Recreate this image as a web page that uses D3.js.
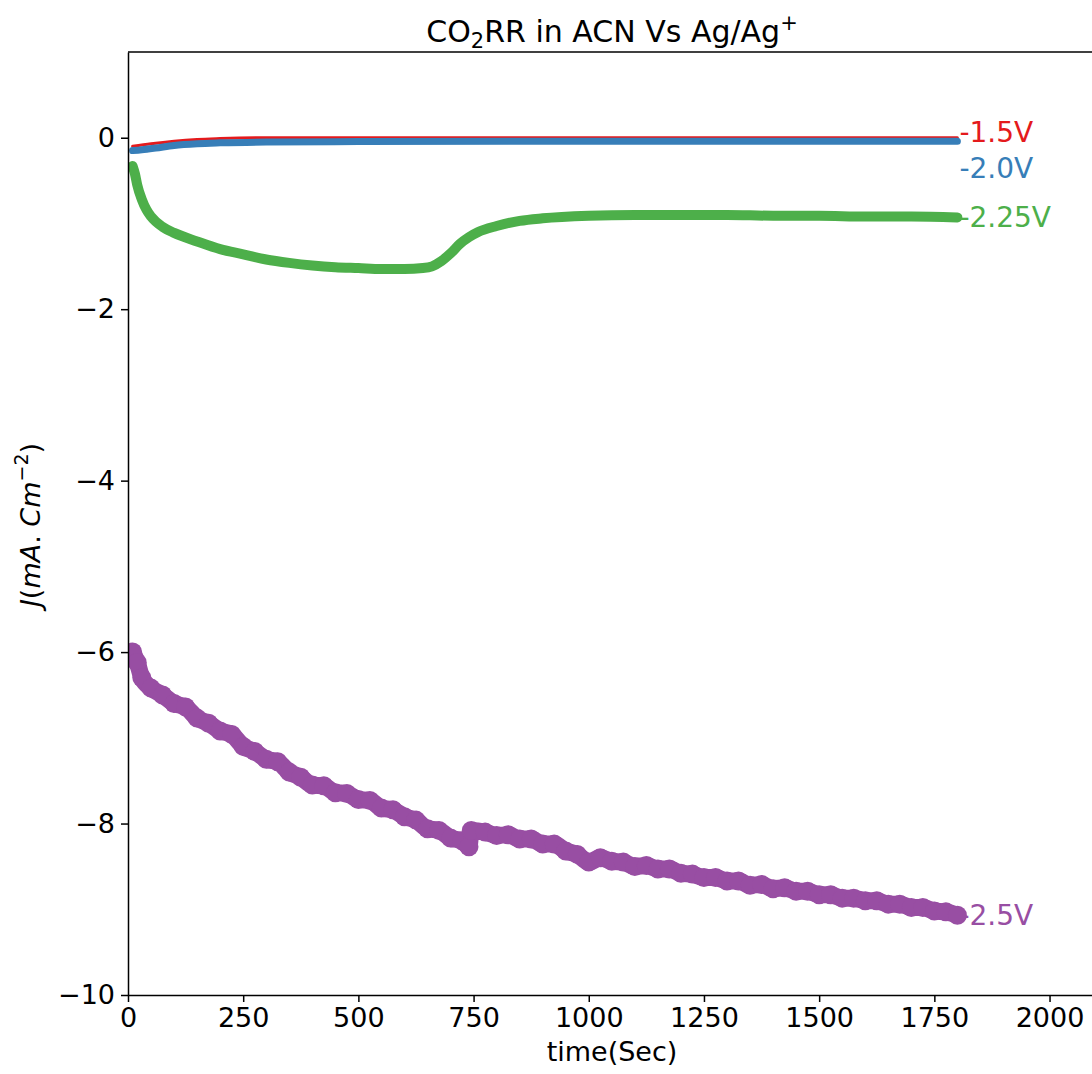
<!DOCTYPE html>
<meta charset="utf-8">
<script src="https://d3js.org/d3.v7.min.js"></script>
<style>
body { margin: 0; background: #fff; }
text { font-family: "DejaVu Sans"; }
</style>
<svg id="chart" width="1092" height="1074"></svg>
<script>
// data (time in s, J in mA/cm2)
const tRed   = [10, 50, 100, 150, 200, 300, 500, 1000, 1500, 1800]
const jRed   = [-0.1, -0.07, -0.04, -0.02, -0.01, 0, 0, 0, 0, 0]

const tBlue  = [10, 30, 60, 100, 150, 200, 300, 500, 1000, 1500, 1800]
const jBlue  = [-0.15, -0.14, -0.12, -0.09, -0.07, -0.06, -0.05, -0.045, -0.04, -0.04, -0.04]

const tGreen = [10, 15, 20, 30, 40, 50, 75, 100, 150, 200, 250, 300, 350, 400, 450, 500, 550, 600, 640, 660, 680, 700, 720, 740, 760, 800, 850, 900, 1000, 1100, 1200, 1300, 1400, 1500, 1600, 1700, 1800]
const jGreen = [-0.33, -0.42, -0.55, -0.72, -0.84, -0.92, -1.04, -1.11, -1.21, -1.3, -1.36, -1.42, -1.46, -1.49, -1.51, -1.52, -1.53, -1.53, -1.52, -1.5, -1.44, -1.35, -1.24, -1.16, -1.1, -1.03, -0.97, -0.94, -0.91, -0.9, -0.9, -0.9, -0.91, -0.91, -0.92, -0.92, -0.93]

const tPurple = [10, 20, 30, 50, 75, 100, 125, 150, 175, 200, 225, 250, 275, 300, 325, 350, 375, 400, 425, 450, 475, 500, 525, 550, 575, 600, 625, 650, 675, 700, 725, 740, 745, 775, 800, 825, 850, 875, 900, 925, 950, 975, 1000, 1025, 1050, 1075, 1100, 1125, 1150, 1175, 1200, 1225, 1250, 1275, 1300, 1325, 1350, 1375, 1400, 1425, 1450, 1475, 1500, 1525, 1550, 1575, 1600, 1625, 1650, 1675, 1700, 1725, 1750, 1775, 1800]
const jPurple = [-6.0, -6.12, -6.3, -6.42, -6.5, -6.6, -6.64, -6.77, -6.83, -6.92, -6.96, -7.1, -7.16, -7.25, -7.28, -7.4, -7.46, -7.55, -7.56, -7.64, -7.65, -7.72, -7.73, -7.82, -7.84, -7.92, -7.96, -8.06, -8.08, -8.17, -8.2, -8.27, -8.08, -8.1, -8.14, -8.13, -8.18, -8.18, -8.24, -8.24, -8.32, -8.36, -8.45, -8.4, -8.44, -8.45, -8.5, -8.49, -8.53, -8.53, -8.58, -8.59, -8.63, -8.63, -8.67, -8.67, -8.72, -8.71, -8.76, -8.75, -8.79, -8.79, -8.83, -8.83, -8.87, -8.87, -8.9, -8.9, -8.94, -8.94, -8.98, -8.98, -9.02, -9.03, -9.07]

const series = [
  { name: "-1.5V",  t: tRed,    j: jRed,    color: "#e41a1c", w: 3,  dy: -6 },
  { name: "-2.0V",  t: tBlue,   j: jBlue,   color: "#377eb8", w: 7,  dy: 27 },
  { name: "-2.25V", t: tGreen,  j: jGreen,  color: "#4daf4a", w: 10, dy: 0 },
  { name: "-2.5V",  t: tPurple, j: jPurple, color: "#984ea3", w: 17, dy: 0 }
]

const xTicks = [0, 250, 500, 750, 1000, 1250, 1500, 1750, 2000]
const yTicks = [0, -2, -4, -6, -8, -10]

const svg = d3.select("#chart")
const mLeft = 128, mRight = 1097, mTop = 52, mBottom = 995

const x = d3.scaleLinear().domain([0, 2103]).range([mLeft, mRight])
const y = d3.scaleLinear().domain([-10, 1]).range([mBottom, mTop])

svg.append("clipPath").attr("id", "clip")
  .append("rect").attr("x", mLeft).attr("y", mTop).attr("width", mRight - mLeft).attr("height", mBottom - mTop)

const plot = svg.append("g").attr("clip-path", "url(#clip)")

const line = d3.line().x(d => x(d[0])).y(d => y(d[1])).curve(d3.curveMonotoneX)

// red first, blue over it, then green and purple
series.forEach((s, i) => {
  const pts = s.t.map((t, k) => [t, s.j[k]])
  plot.append("path")
    .datum(pts)
    .attr("d", line)
    .attr("fill", "none")
    .attr("stroke", s.color)
    .attr("stroke-width", s.w)
    .attr("stroke-linejoin", "round")
    .attr("stroke-linecap", "round")
  if (i == 3) {
    plot.selectAll(".dot")
      .data(pts)
      .join("circle")
        .attr("cx", d => x(d[0]))
        .attr("cy", d => y(d[1]))
        .attr("r", 9.5)
        .attr("fill", s.color)
  }
})

// end labels
series.forEach(s => {
  const n = s.t.length - 1
  svg.append("text")
    .attr("x", x(s.t[n]) + 2)
    .attr("y", y(s.j[n]) + 10 + s.dy)
    .attr("fill", s.color)
    .attr("font-size", 28)
    .text(s.name)
})

// axes
svg.append("g")
  .attr("transform", `translate(0,${mBottom})`)
  .call(d3.axisBottom(x).tickValues(xTicks).tickSize(7).tickSizeOuter(0).tickPadding(6).tickFormat(d3.format("d")))
svg.append("g")
  .attr("transform", `translate(${mLeft},0)`)
  .call(d3.axisLeft(y).tickValues(yTicks).tickSize(7).tickSizeOuter(0).tickPadding(6).tickFormat(d => d < 0 ? "\u2212" + Math.abs(d) : d))

svg.selectAll(".tick text").attr("font-size", 27).attr("fill", "#000").attr("font-family", "DejaVu Sans")
svg.selectAll(".domain, .tick line").attr("stroke", "#000").attr("stroke-width", 1.5)

// top spine
svg.append("line").attr("x1", mLeft).attr("x2", mRight).attr("y1", mTop).attr("y2", mTop)
  .attr("stroke", "#000").attr("stroke-width", 1.5)

// title
const title = svg.append("text")
  .attr("x", 612).attr("y", 42)
  .attr("text-anchor", "middle")
  .attr("font-size", 30)
title.append("tspan").text("CO")
title.append("tspan").attr("font-size", 21).attr("dy", 6).text("2")
title.append("tspan").attr("dy", -6).text("RR in ACN Vs Ag/Ag")
title.append("tspan").attr("font-size", 21).attr("dy", -12).text("+")

// x label
svg.append("text")
  .attr("x", 612).attr("y", 1061)
  .attr("text-anchor", "middle")
  .attr("font-size", 27)
  .text("time(Sec)")

// y label
const yl = svg.append("text")
  .attr("transform", "translate(40,525) rotate(-90)")
  .attr("text-anchor", "middle")
  .attr("font-size", 27)
yl.append("tspan").attr("font-style", "italic").text("J")
yl.append("tspan").text("(")
yl.append("tspan").attr("font-style", "italic").text("mA")
yl.append("tspan").text(". ")
yl.append("tspan").attr("font-style", "italic").text("Cm")
yl.append("tspan").attr("font-size", 19).attr("dy", -12).text("\u22122")
yl.append("tspan").attr("dy", 12).text(")")
</script>
